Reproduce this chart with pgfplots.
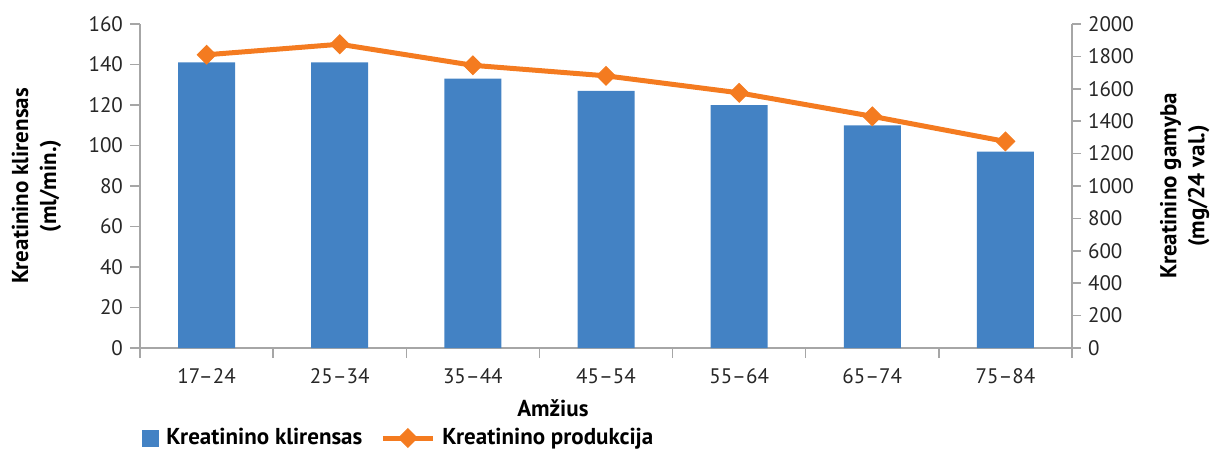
\documentclass[border=0pt]{standalone}
\usepackage{fontspec}
\setmainfont{PT Sans}
\usepackage{pgfplots}
\pgfplotsset{compat=1.18}

\definecolor{barblue}{RGB}{67,130,196}
\definecolor{lineorange}{RGB}{244,123,32}
\definecolor{axisgray}{RGB}{166,166,166}

\newcommand\tickfont{\fontsize{10.5}{12}\selectfont}
\newcommand\labelfont{\fontsize{11.5}{14}\selectfont\bfseries}

\pgfplotsset{
  common/.style={
    scale only axis, width=466pt, height=162pt,
    xmin=-0.5, xmax=6.5,
    tick align=outside,
    major tick length=4.5pt,
    axis line style={draw=axisgray, line width=0.75pt},
    tick style={draw=axisgray, line width=0.75pt},
    /pgf/number format/assume math mode=true,
    /pgf/number format/1000 sep={},
    tick label style={font=\tickfont, text=black!85},
    label style={font=\labelfont, align=center},
  },
  prodline/.style={lineorange, line width=2.5pt, mark=square*, mark size=3.3pt,
    mark options={solid, rotate=45, line width=0.5pt}},
  prodleg/.style={legend image code/.code={\draw[mark repeat=2,mark phase=2,##1]
    plot coordinates {(0pt,0pt) (12.5pt,0pt) (25pt,0pt)};}},
  barleg/.style={legend image code/.code={\fill[barblue] (0pt,-4.25pt) rectangle (8.5pt,4.25pt);}},
}

\begin{document}
\begin{tikzpicture}
% Bars: creatinine clearance (left axis)
\begin{axis}[
  common,
  name=ax,
  ymin=0, ymax=160, ytick={0,20,...,160},
  axis x line*=bottom, axis y line*=left,
  xtick={-0.5,0.5,...,6.5},
  xticklabels={},
  major tick length=5pt,
  extra x ticks={0,1,2,3,4,5,6},
  extra x tick labels={17–24,25–34,35–44,45–54,55–64,65–74,75–84},
  extra x tick style={major tick length=0pt, xticklabel style={yshift=-6.5pt}},
  xlabel={Amžius},
  xlabel style={at={(axis description cs:0.443,0)}, anchor=center, yshift=-30pt},
  ylabel={Kreatinino klirensas\\(ml/min.)},
  ylabel style={at={(axis description cs:-0.111,0.5)}, anchor=center},
  legend columns=2,
  legend style={at={(axis description cs:0,0)}, anchor=west, xshift=1pt, yshift=-45pt,
    draw=none, fill=none, inner sep=0pt,
    font=\labelfont,
    nodes={inner sep=2pt},
    /tikz/every odd column/.append style={column sep=1.5pt},
    /tikz/every even column/.append style={column sep=7pt}},
]
\addplot[ybar, bar width=28.5pt, fill=barblue, draw=none, barleg]
  coordinates {(0,141) (1,141) (2,133) (3,127) (4,120) (5,110) (6,97)};
\addlegendentry{Kreatinino klirensas}
\addlegendimage{prodline, prodleg}
\addlegendentry{Kreatinino produkcija}
\end{axis}

% Line: creatinine production (right axis)
\begin{axis}[
  common,
  ymin=0, ymax=2000, ytick={0,200,...,2000},
  axis x line=none, axis y line*=right,
  ylabel={Kreatinino gamyba\\(mg/24 val.)},
  ylabel style={at={(axis description cs:1.121,0.5)}, anchor=center},
]
\addplot[prodline]
  coordinates {(0,1810) (1,1875) (2,1745) (3,1680) (4,1575) (5,1430) (6,1275)};
\end{axis}

\pgfresetboundingbox
\path[use as bounding box] (ax.south west) ++(-70pt,-51pt) rectangle ([shift={(70.5pt,12pt)}]ax.north east);
\end{tikzpicture}
\end{document}
